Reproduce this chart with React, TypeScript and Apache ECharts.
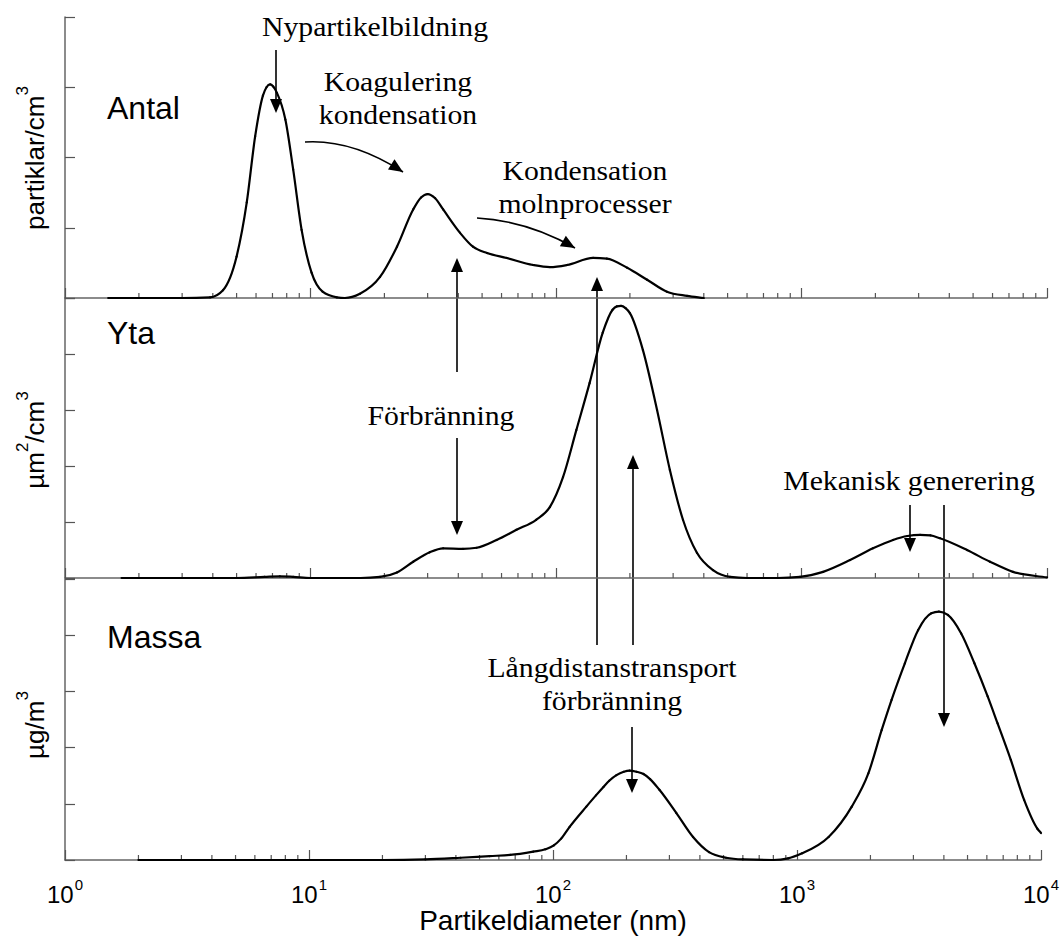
import React, { useEffect, useRef } from "react";
import * as echarts from "echarts";

// ---- data (diameter in nm, relative value) ----
const antalD = [1.5, 3.0, 3.9, 4.4, 5.0, 5.5, 5.95, 6.4, 6.62, 6.85, 7.05, 7.3, 7.9, 8.5, 9.2, 10.1, 11.2, 12.8, 13.8, 15.9, 19.2, 22.5, 26.2, 28.2, 30, 32.2, 34.7, 40.6, 45.9, 52.4, 63, 80.6, 94.5, 111, 141.6, 161, 195, 235, 283, 342, 400];
const antalV = [0, 0, 0.01, 0.11, 0.59, 1.36, 2.3, 2.88, 3.0, 3.04, 3.01, 2.92, 2.54, 1.83, 0.97, 0.36, 0.09, 0.01, 0, 0.06, 0.3, 0.73, 1.26, 1.43, 1.48, 1.42, 1.26, 0.93, 0.73, 0.64, 0.57, 0.47, 0.44, 0.47, 0.57, 0.56, 0.43, 0.26, 0.09, 0.03, 0];

const ytaD = [1.7, 5.0, 6.5, 7.5, 8.5, 10, 16, 19.2, 22.5, 26.2, 30.6, 34.7, 41.8, 47.5, 57.3, 69, 83, 94.5, 106.8, 121, 137, 155, 170, 177, 184, 192, 200, 226, 258, 291, 329, 375, 436, 512, 600, 800, 986, 1225, 1577, 1955, 2360, 2700, 3040, 3350, 3665, 4723, 5858, 7266, 10000];
const ytaV = [0, 0, 0.02, 0.03, 0.02, 0, 0, 0.02, 0.1, 0.29, 0.46, 0.53, 0.52, 0.54, 0.68, 0.86, 1.04, 1.27, 1.8, 2.64, 3.48, 4.38, 4.79, 4.85, 4.86, 4.82, 4.73, 4.07, 3.0, 1.93, 1.04, 0.45, 0.14, 0.02, 0, 0, 0.02, 0.11, 0.32, 0.53, 0.68, 0.75, 0.77, 0.76, 0.71, 0.5, 0.29, 0.11, 0.01];

const massaD = [2, 20, 30, 41.8, 55, 66.8, 83, 93, 100.8, 108, 117, 137, 150, 161, 170, 182, 195, 206, 220, 235, 250, 273, 320, 375, 436, 512, 600, 800, 920, 1050, 1348, 1677, 1961, 2223, 2442, 2767, 3135, 3553, 3817, 4153, 4710, 5336, 6046, 6640, 7523, 8528, 9660, 10000];
const massaV = [0, 0, 0.01, 0.04, 0.07, 0.09, 0.15, 0.19, 0.26, 0.38, 0.59, 0.95, 1.15, 1.3, 1.41, 1.51, 1.57, 1.59, 1.57, 1.53, 1.44, 1.25, 0.84, 0.41, 0.14, 0.04, 0.01, 0, 0.03, 0.12, 0.41, 0.95, 1.54, 2.31, 2.85, 3.5, 4.09, 4.39, 4.42, 4.36, 4.03, 3.5, 2.91, 2.43, 1.78, 1.07, 0.56, 0.48];

const yMax = [4, 5, 5];
const minorTicks = [2, 3, 4, 5, 6, 7, 8, 9, 20, 30, 40, 50, 60, 70, 80, 90, 200, 300, 400, 500, 600, 700, 800, 900, 2000, 3000, 4000, 5000, 6000, 7000, 8000, 9000];
const panelNames = ["Antal", "Yta", "Massa"];
const xTitle = "Partikeldiameter (nm)";

// ---- annotation layout ----
const SANS = '"Liberation Sans", Arial, sans-serif';
const SERIF = '"Liberation Serif", "Times New Roman", serif';

const notes: [string, number, number][] = [
  ["Nypartikelbildning", 375, 27],
  ["Koagulering", 398, 82],
  ["kondensation", 398, 115],
  ["Kondensation", 585, 171],
  ["molnprocesser", 585, 204],
  ["Förbränning", 441, 416],
  ["Långdistanstransport", 612, 668],
  ["förbränning", 612, 701],
  ["Mekanisk generering", 909, 481],
];
// x, yStart, yTip
const arrows: [number, number, number][] = [
  [276, 50, 113],
  [457, 372, 258],
  [457, 438, 535],
  [597, 645, 277],
  [633, 645, 455],
  [632, 727, 793],
  [910, 505, 552],
  [944, 505, 727],
];
// start, control, tip
const curved: number[][] = [
  [305, 142, 352, 139, 403, 172],
  [477, 218, 528, 221, 575, 248],
];
const labelPos: [number, number][] = [
  [107, 108],
  [107, 333],
  [107, 637],
];
const unitPos: [number, number][] = [
  [31, 158],
  [31, 440],
  [31, 725],
];
const unitTexts = ["{n|partiklar/cm}{s|3}", "{n|µm}{s|2}{n|/cm}{s|3}", "{n|µg/m}{s|3}"];

function headPoints(tx: number, ty: number, dx: number, dy: number) {
  const len = Math.hypot(dx, dy);
  const ux = dx / len, uy = dy / len;
  const L = 14, W = 12;
  const bx = tx - ux * L, by = ty - uy * L;
  return [
    [tx, ty],
    [bx - (uy * W) / 2, by + (ux * W) / 2],
    [bx + (uy * W) / 2, by - (ux * W) / 2],
  ];
}

const unitRich = {
  n: { fontSize: 26, fontFamily: SANS, fill: "#000", color: "#000", verticalAlign: "bottom", lineHeight: 34 },
  s: { fontSize: 17, fontFamily: SANS, fill: "#000", color: "#000", verticalAlign: "top" },
};

function buildGraphics() {
  const g: any[] = [];
  notes.forEach(([t, x, y]) => {
    g.push({
      type: "text", x, y, scaleX: 1.1, silent: true,
      style: { text: t, font: `27px ${SERIF}`, fill: "#000", align: "center", verticalAlign: "middle" },
    });
  });
  arrows.forEach(([x, y0, tip]) => {
    const dir = tip > y0 ? 1 : -1;
    g.push({ type: "line", silent: true, shape: { x1: x, y1: y0, x2: x, y2: tip - dir * 8 }, style: { stroke: "#000", lineWidth: 1.6 } });
    g.push({ type: "polygon", silent: true, shape: { points: headPoints(x, tip, 0, dir) }, style: { fill: "#000" } });
  });
  curved.forEach(([x1, y1, cx, cy, x2, y2]) => {
    g.push({ type: "bezierCurve", silent: true, shape: { x1, y1, cpx1: cx, cpy1: cy, x2, y2 }, style: { stroke: "#000", lineWidth: 1.6, fill: null } });
    g.push({ type: "polygon", silent: true, shape: { points: headPoints(x2, y2, x2 - cx, y2 - cy) }, style: { fill: "#000" } });
  });
  panelNames.forEach((t, i) => {
    g.push({
      type: "text", x: labelPos[i][0], y: labelPos[i][1], silent: true,
      style: { text: t, font: `32px ${SANS}`, fill: "#000", align: "left", verticalAlign: "middle" },
    });
  });
  unitTexts.forEach((t, i) => {
    g.push({
      type: "text", x: unitPos[i][0], y: unitPos[i][1], rotation: Math.PI / 2, silent: true,
      style: { text: t, rich: unitRich, fill: "#000", align: "center", verticalAlign: "middle" },
    });
  });
  return g;
}

const zip = (a: number[], b: number[]) => a.map((v, i) => [v, b[i]]);

// monotone cubic (in pixel space) tangent estimates
function tangents(P: number[][]) {
  const n = P.length;
  const s: number[] = [];
  for (let i = 0; i < n - 1; i++) {
    const h = P[i + 1][0] - P[i][0];
    s.push(h === 0 ? 0 : (P[i + 1][1] - P[i][1]) / h);
  }
  const m: number[] = [];
  for (let i = 0; i < n; i++) {
    if (i === 0) { m.push(s[0]); continue; }
    if (i === n - 1) { m.push(s[n - 2]); continue; }
    const h0 = P[i][0] - P[i - 1][0], h1 = P[i + 1][0] - P[i][0];
    const s0 = s[i - 1], s1 = s[i];
    const p = (s0 * h1 + s1 * h0) / (h0 + h1);
    m.push((Math.sign(s0) + Math.sign(s1)) * Math.min(Math.abs(s0), Math.abs(s1), 0.5 * Math.abs(p)) || 0);
  }
  return m;
}

export default function App() {
  const ref = useRef<HTMLDivElement>(null);
  useEffect(() => {
    if (!ref.current) return;
    const chart = echarts.init(ref.current, undefined, { renderer: "svg" });
    const grids = [
      { left: 65, right: 15, top: 17, height: 281 },
      { left: 65, right: 15, top: 298, height: 280 },
      { left: 65, right: 15, top: 579, height: 281 },
    ];
    const axisColor = "#666";
    const xAxis = grids.map((_, i) => ({
      type: "log",
      logBase: 10,
      min: 1,
      max: 10000,
      gridIndex: i,
      axisLine: { onZero: false, lineStyle: { color: axisColor, width: 1.5 } },
      axisTick: { inside: true, length: 10, lineStyle: { color: "#555", width: 1.2 } },
      splitLine: { show: false },
      axisLabel: {
        show: i === 2,
        margin: 8,
        formatter: (v: number) => `{b|10}{s|${Math.round(Math.log10(v))}}`,
        rich: {
          b: { fontSize: 24, fontFamily: SANS, color: "#000", verticalAlign: "bottom", lineHeight: 38 },
          s: { fontSize: 15, fontFamily: SANS, color: "#000", verticalAlign: "top", padding: [9, 0, 0, 1] },
        },
      },
      name: i === 2 ? xTitle : "",
      nameLocation: "middle",
      nameGap: 46,
      nameTextStyle: { fontSize: 28, fontFamily: SANS, color: "#000" },
    }));
    const yAxis = grids.map((_, i) => ({
      type: "value",
      min: 0,
      max: yMax[i],
      interval: 1,
      gridIndex: i,
      axisLine: { show: true, onZero: false, lineStyle: { color: axisColor, width: 1.5 } },
      axisTick: { show: true, inside: true, length: 10, lineStyle: { color: "#555", width: 1.2 } },
      axisLabel: { show: false },
      splitLine: { show: false },
    }));
    const curves = [zip(antalD, antalV), zip(ytaD, ytaV), zip(massaD, massaV)];
    const names = ["Antal", "Yta", "Massa"];
    const series: any[] = [];
    curves.forEach((data, i) => {
      series.push({
        type: "custom",
        name: names[i],
        xAxisIndex: i,
        yAxisIndex: i,
        silent: true,
        clip: false,
        data,
        encode: { x: 0, y: 1 },
        renderItem: (params: any, api: any) => {
          const k = params.dataIndex;
          if (k >= data.length - 1) return { type: "group", children: [] };
          const P = data.map((d) => api.coord(d));
          const m = tangents(P);
          const a = P[k], b = P[k + 1];
          const h = (b[0] - a[0]) / 3;
          return {
            type: "bezierCurve",
            shape: {
              x1: a[0], y1: a[1],
              cpx1: a[0] + h, cpy1: a[1] + m[k] * h,
              cpx2: b[0] - h, cpy2: b[1] - m[k + 1] * h,
              x2: b[0], y2: b[1],
            },
            style: { stroke: "#000", lineWidth: 2.2, fill: null, lineCap: "round" },
          };
        },
        z: 3,
      });
      series.push({
        type: "custom",
        xAxisIndex: i,
        yAxisIndex: i,
        silent: true,
        clip: false,
        data: minorTicks.map((v) => [v, 0]),
        encode: { x: 0, y: 1 },
        renderItem: (_p: any, api: any) => {
          const p = api.coord([api.value(0), 0]);
          return {
            type: "line",
            shape: { x1: p[0], y1: p[1], x2: p[0], y2: p[1] - 5 },
            style: { stroke: "#555", lineWidth: 1.2 },
          };
        },
        z: 2,
      });
    });
    chart.setOption({
      animation: false,
      backgroundColor: "#fff",
      grid: grids,
      xAxis,
      yAxis,
      series,
      graphic: buildGraphics(),
    });
    return () => chart.dispose();
  }, []);
  return <div ref={ref} style={{ position: "fixed", left: 0, top: 0, width: 1062, height: 936 }} />;
}
